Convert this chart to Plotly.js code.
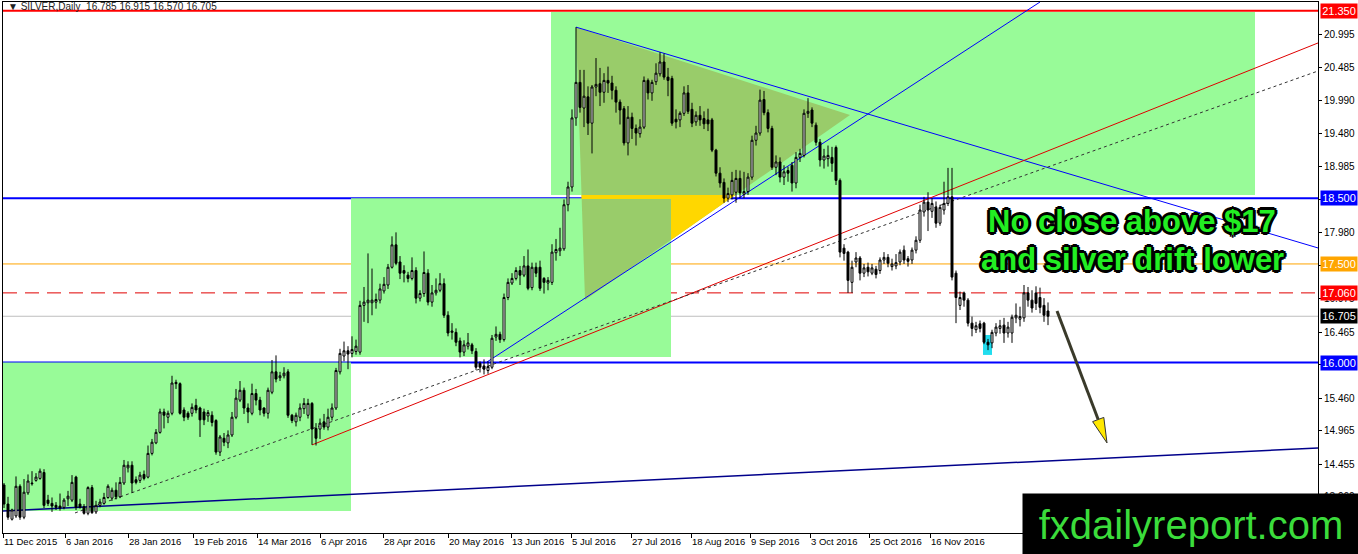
<!DOCTYPE html>
<html>
<head>
<meta charset="utf-8">
<script src="https://cdn.plot.ly/plotly-3.0.1.min.js"></script>
<style>
  html, body { margin: 0; padding: 0; background: #fff; }
  #chart { width: 1358px; height: 554px; }
</style>
</head>
<body>
<div id="chart"></div>
<script>
// SILVER daily, Dec 2015 - Dec 2016 (one entry per bar)
const opens = [
  14.14,13.85,13.62,13.67,14.12,13.65,14.02,14.17,14.21,14.24,14.33,13.91,13.86,13.83,13.82,13.80,13.93,13.91,14.26,13.85,
  13.81,13.71,14.10,13.73,13.83,13.86,13.95,13.94,14.06,13.96,14.17,14.40,14.44,14.22,14.21,14.30,14.26,14.62,14.78,14.94,
  15.25,15.17,15.23,15.70,15.68,15.28,15.23,15.23,15.35,15.31,15.25,15.19,15.20,15.12,14.64,14.85,14.78,14.90,15.17,15.43,
  15.58,15.31,15.23,15.53,15.43,15.31,15.23,15.55,15.86,15.77,15.80,15.86,15.20,15.10,15.17,15.30,15.20,15.38,15.00,14.99,
  15.10,15.02,15.17,15.31,15.86,16.10,16.18,16.14,16.17,16.16,16.87,16.91,16.91,16.92,16.95,17.09,17.18,17.45,17.79,17.53,
  17.40,17.33,17.28,17.40,16.98,17.05,17.36,16.92,17.06,17.10,17.20,16.72,16.46,16.46,16.33,16.16,16.25,16.27,16.17,15.99,
  15.95,15.88,15.93,16.39,16.43,16.35,16.99,17.21,17.28,17.40,17.33,17.47,17.14,17.45,17.45,17.28,17.21,17.22,17.67,17.70,
  17.73,18.40,18.67,19.72,20.26,19.87,20.04,19.64,20.19,20.24,20.11,20.29,20.25,20.14,19.96,19.86,19.34,19.73,19.56,19.48,
  19.58,20.29,20.10,20.27,20.39,20.57,20.34,20.32,19.70,19.69,19.79,20.10,19.85,19.66,19.76,19.71,19.69,19.69,19.23,18.88,
  18.74,18.50,18.55,18.59,18.80,18.56,18.60,18.82,19.38,19.49,20.00,19.80,19.56,18.97,19.05,18.82,18.92,19.00,18.73,19.12,
  19.15,19.79,19.84,19.61,19.35,19.08,19.10,19.12,19.27,18.77,17.74,17.68,17.22,17.53,17.59,17.36,17.45,17.36,17.42,17.40,
  17.56,17.60,17.46,17.47,17.53,17.71,17.58,17.56,17.71,17.86,18.29,18.44,18.30,18.36,18.12,18.32,18.42,18.52,17.36,16.87,
  17.06,16.95,16.60,16.50,16.59,16.60,16.31,16.30,16.45,16.52,16.57,16.45,16.45,16.68,16.66,16.68,17.06,16.95,17.06,16.99,
  16.87,16.785
];
const highs = [
  14.17,13.96,13.78,14.27,14.15,14.23,14.30,14.35,14.32,14.39,14.38,13.99,13.95,13.88,14.01,13.94,14.05,14.29,14.28,13.93,
  13.85,14.12,14.14,13.90,13.93,14.02,14.15,14.10,14.18,14.26,14.52,14.50,14.50,14.27,14.34,14.36,14.74,14.84,14.99,15.30,
  15.30,15.27,15.80,15.74,15.70,15.32,15.26,15.38,15.45,15.33,15.30,15.28,15.26,15.14,14.90,14.93,14.97,15.25,15.60,15.72,
  15.62,15.38,15.68,15.60,15.48,15.32,15.62,16.04,16.11,15.86,15.93,15.90,15.22,15.24,15.38,15.46,15.45,15.40,15.08,15.15,
  15.22,15.30,15.38,15.92,16.21,16.32,16.25,16.40,16.35,16.94,17.15,17.66,17.43,17.05,17.20,17.30,17.50,17.92,17.98,17.62,
  17.48,17.38,17.60,17.45,17.10,17.69,17.42,17.18,17.28,17.36,17.28,16.78,16.60,16.52,16.38,16.34,16.45,16.30,16.22,16.02,
  16.05,16.02,16.42,16.55,16.47,17.05,17.28,17.36,17.45,17.47,17.62,17.72,17.52,17.52,17.55,17.30,17.30,17.80,17.88,18.05,
  18.48,18.75,19.85,21.10,20.45,20.45,20.20,20.22,20.63,20.48,20.40,20.50,20.36,20.20,20.00,19.90,19.90,19.80,19.62,19.70,
  20.35,20.32,20.30,20.55,20.72,20.70,20.48,20.36,19.85,19.82,20.20,20.22,19.95,19.82,19.90,19.82,19.86,19.72,19.25,18.97,
  18.80,18.66,18.90,18.93,18.92,18.90,18.88,19.45,19.60,20.15,20.13,19.85,19.60,19.15,19.12,19.00,18.98,19.05,19.20,19.25,
  19.85,20.02,19.88,19.65,19.40,19.25,19.30,19.28,19.30,18.80,17.80,17.70,17.55,17.68,17.62,17.50,17.52,17.50,17.47,17.60,
  17.68,17.65,17.58,17.65,17.72,17.78,17.62,17.75,17.92,18.40,18.52,18.59,18.50,18.45,18.40,18.75,18.96,18.96,17.40,17.08,
  17.08,16.98,16.70,16.62,16.64,16.62,16.36,16.50,16.60,16.65,16.68,16.62,16.73,16.90,16.85,17.18,17.15,17.10,17.16,17.14,
  16.98,16.915
];
const lows = [
  13.79,13.61,13.60,13.64,13.61,13.62,13.99,14.13,14.19,14.22,13.79,13.82,13.73,13.76,13.75,13.77,13.82,13.88,13.76,13.78,
  13.69,13.68,13.70,13.70,13.80,13.84,13.93,13.90,13.92,13.94,14.14,14.33,14.02,14.15,14.17,14.21,14.24,14.59,14.76,14.92,
  15.00,15.08,15.20,15.60,15.21,15.11,15.13,15.18,15.23,14.87,15.05,15.10,15.03,14.60,14.58,14.73,14.70,14.87,15.14,15.40,
  15.22,15.08,15.20,15.35,15.20,15.18,15.15,15.52,15.70,15.72,15.76,15.16,15.08,15.03,15.11,15.22,15.15,14.75,14.74,14.84,
  14.98,14.97,15.12,15.28,15.82,16.02,15.90,16.08,16.12,16.12,16.62,16.60,16.72,16.82,16.90,17.05,17.12,17.43,17.48,17.27,
  17.22,17.22,17.25,16.90,16.93,17.00,16.87,16.85,17.02,17.07,16.68,16.40,16.35,16.25,16.08,16.10,16.20,16.13,15.89,15.85,
  15.82,15.83,15.90,16.33,16.30,16.32,16.95,17.18,17.25,17.18,17.30,17.10,17.10,17.30,17.09,17.05,17.10,17.18,17.55,17.62,
  17.70,18.30,18.60,19.60,19.80,19.58,19.46,19.18,20.05,19.90,19.95,20.10,20.00,19.80,19.62,19.30,19.15,19.40,19.30,19.42,
  19.55,20.00,19.98,20.22,20.35,20.30,20.05,19.60,19.56,19.58,19.75,19.78,19.58,19.60,19.60,19.55,19.52,19.20,18.83,18.66,
  18.43,18.44,18.48,18.43,18.50,18.50,18.55,18.78,19.30,19.45,19.76,19.50,18.93,18.85,18.74,18.70,18.75,18.60,18.65,19.05,
  19.12,19.72,19.58,19.30,18.98,18.95,18.98,18.90,18.70,17.60,17.55,17.06,17.06,17.45,17.25,17.30,17.31,17.33,17.28,17.35,
  17.50,17.45,17.40,17.42,17.48,17.50,17.46,17.50,17.66,17.82,18.22,18.00,18.20,18.05,18.08,18.25,18.38,17.25,16.60,16.80,
  16.85,16.55,16.40,16.45,16.46,16.28,16.19,16.22,16.40,16.44,16.30,16.38,16.30,16.60,16.55,16.62,16.85,16.76,16.80,16.75,
  16.62,16.570
];
const closes = [
  13.85,13.65,13.76,14.12,13.65,14.03,14.20,14.16,14.26,14.35,13.83,13.86,13.82,13.80,13.79,13.91,13.97,14.18,13.80,13.80,
  13.71,14.10,13.72,13.83,13.88,13.95,14.12,14.06,13.96,14.18,14.44,14.44,14.17,14.18,14.29,14.24,14.62,14.79,14.94,15.25,
  15.20,15.23,15.69,15.68,15.23,15.17,15.17,15.32,15.28,15.13,15.13,15.24,15.09,14.64,14.87,14.79,14.90,15.17,15.46,15.58,
  15.31,15.25,15.53,15.43,15.28,15.23,15.58,15.86,15.75,15.80,15.84,15.20,15.12,15.20,15.31,15.38,15.38,14.99,14.85,15.08,
  15.02,15.17,15.31,15.88,16.14,16.18,16.13,16.20,16.25,16.87,16.92,16.95,16.95,16.96,17.12,17.19,17.45,17.79,17.51,17.36,
  17.36,17.28,17.40,16.98,17.05,17.37,16.92,17.06,17.10,17.20,16.72,16.45,16.48,16.31,16.16,16.27,16.30,16.18,15.93,15.93,
  15.90,15.94,16.37,16.43,16.35,16.99,17.22,17.28,17.40,17.33,17.47,17.13,17.45,17.36,17.13,17.22,17.25,17.68,17.72,17.74,
  18.40,18.67,19.72,20.26,19.88,20.05,19.64,20.19,20.23,20.11,20.29,20.25,20.14,19.96,19.84,19.34,19.73,19.56,19.49,19.58,
  20.29,20.10,20.26,20.40,20.57,20.34,20.29,19.64,19.66,19.79,20.10,19.82,19.64,19.76,19.69,19.63,19.63,19.23,18.88,18.73,
  18.50,18.57,18.77,18.80,18.58,18.60,18.82,19.38,19.49,19.99,19.80,19.56,18.97,19.05,18.82,18.90,18.88,18.73,19.12,19.18,
  19.79,19.82,19.64,19.35,19.08,19.14,19.15,19.03,18.77,17.68,17.66,17.25,17.45,17.59,17.36,17.44,17.38,17.44,17.34,17.56,
  17.60,17.51,17.50,17.52,17.68,17.56,17.54,17.71,17.86,18.32,18.44,18.32,18.42,18.12,18.36,18.42,18.52,17.30,16.99,16.99,
  16.95,16.60,16.52,16.56,16.52,16.31,16.27,16.46,16.54,16.56,16.45,16.54,16.69,16.72,16.70,17.06,16.95,16.83,16.90,16.84,
  16.72,16.705
];

// bottom time axis: bar position of each MT4 date label
const dateTicks = [-0.25, 15.25, 31, 47.25, 63.25, 79, 94.75, 111, 126.75, 141.75, 156.75, 171.75, 186.5, 201.5, 216.25, 231.5];
const dateLabels = ['11 Dec 2015','6 Jan 2016','28 Jan 2016','19 Feb 2016','14 Mar 2016','6 Apr 2016','28 Apr 2016',
  '20 May 2016','13 Jun 2016','5 Jul 2016','27 Jul 2016','18 Aug 2016','9 Sep 2016','3 Oct 2016','25 Oct 2016',
  '16 Nov 2016'];
// right price scale
const priceTicks = [20.995, 20.485, 19.990, 19.480, 18.985, 18.475, 17.980, 17.470, 16.975, 16.465, 15.970, 15.460, 14.965, 14.455, 13.960];

// horizontal levels drawn on the chart, with their price tag colour
const levelPrices = [21.350, 18.500, 17.500, 17.060, 16.705, 16.000];
const levelColors = ['#FF0000', '#0000FF', '#FFA500', '#FF0000', '#000000', '#0000FF'];

// trend lines: [bar, price] anchors
const upperBlue  = [[143, 21.10], [328.5, 17.743]];
const risingBlue = [[120.75, 16.01], [259, 21.482]];
const redTrend   = [[77, 14.749], [328.5, 20.859]];
const dotTrend   = [[17.75, 13.715], [328.5, 20.433]];
const navyTrend  = [[-0.25, 13.745], [328.5, 14.703]];

// green zones: [bar0, bar1, priceLow, priceHigh]
const zones = [
  [-0.25, 86.75, 13.745, 16.00],
  [86.75, 166.75, 16.086, 18.50],
  [136.75, 312.75, 18.55, 21.33]
];
const triangle = [[143, 21.10], [211.5, 19.765], [145.25, 16.953]];
const triangleGap = [[144.375, 18.549], [182.85, 18.549], [166.75, 17.865], [166.75, 18.488], [144.4, 18.488]];
const lowMark = [244.75, 247, 16.117, 16.42];
const arrowShaft = [[263.25, 16.785], [273.55, 15.135]];
const arrowHead = [[275.75, 14.779], [274.95, 15.167], [272.15, 15.103]];

function pathOf(pts) {
  return 'M' + pts.map(p => p[0] + ',' + p[1]).join(' L') + ' Z';
}
function seg(p, color, width, dash) {
  return {type: 'line', xref: 'x', yref: 'y', x0: p[0][0], y0: p[0][1], x1: p[1][0], y1: p[1][1],
    line: {color: color, width: width, dash: dash || 'solid'}, layer: 'below'};
}

const shapes = [];
zones.forEach(z => shapes.push({type: 'rect', xref: 'x', yref: 'y', x0: z[0], x1: z[1], y0: z[2], y1: z[3],
  fillcolor: '#98FB98', line: {width: 0}, layer: 'below'}));
shapes.push({type: 'path', path: pathOf(triangle), fillcolor: '#99CC6A', line: {width: 0}, layer: 'below'});
shapes.push({type: 'path', path: pathOf(triangleGap), fillcolor: '#FFD700', line: {width: 0}, layer: 'below'});
shapes.push({type: 'rect', xref: 'x', yref: 'y', x0: lowMark[0], x1: lowMark[1], y0: lowMark[2], y1: lowMark[3],
  fillcolor: '#22DDEE', line: {width: 0}, layer: 'below'});

// level lines
const levelStyle = [[2, 'solid'], [2, 'solid'], [1, 'solid'], [1, '14px,8px'], [1, 'solid'], [2, 'solid']];
levelPrices.forEach((p, i) => shapes.push({type: 'line', xref: 'paper', yref: 'y', x0: 0, x1: 1, y0: p, y1: p,
  line: {color: i === 4 ? '#BEBEBE' : (i === 3 ? '#E00000' : levelColors[i]), width: levelStyle[i][0], dash: levelStyle[i][1]},
  layer: 'below'}));

shapes.push(seg(upperBlue, '#0000FF', 1));
shapes.push(seg(risingBlue, '#0000FF', 1));
shapes.push(seg(redTrend, '#E00000', 1));
shapes.push(seg(dotTrend, '#333333', 1, '3px,3px'));
shapes.push(seg(navyTrend, '#00008B', 1.5));

// arrow
const shaft = seg(arrowShaft, '#3A3A2A', 3);
shaft.layer = 'above';
shapes.push(shaft);
shapes.push({type: 'path', path: pathOf(arrowHead), fillcolor: '#FFE800', line: {color: '#333', width: 1}, layer: 'above'});

const annotations = [];
levelPrices.forEach((p, i) => annotations.push({
  xref: 'paper', yref: 'y', x: 1, y: p, xanchor: 'left', yanchor: 'middle', xshift: 2,
  text: p.toFixed(3), showarrow: false, bgcolor: levelColors[i], borderpad: 1, width: 34,
  font: {family: 'Liberation Sans, Arial, sans-serif', size: 11, color: '#FFFFFF'}
}));

annotations.push({
  xref: 'paper', yref: 'paper', x: 0.002, y: 1, xanchor: 'left', yanchor: 'top', yshift: 3, showarrow: false,
  text: '\u25BC SILVER,Daily  16.785 16.915 16.570 16.705',
  font: {family: 'Liberation Sans, Arial, sans-serif', size: 10, color: '#222'}
});

const outline = '-2px -2px 0 #000, 2px -2px 0 #000, -2px 2px 0 #000, 2px 2px 0 #000, 0 3px 0 #000, 0 -3px 0 #000, 3px 0 0 #000, -3px 0 0 #000';
const bigFont = {family: 'Liberation Sans, Arial, sans-serif', size: 31,
  color: '#22EE22', weight: 'bold', shadow: outline};
annotations.push({xref: 'x', yref: 'y', x: 282, y: 18.15, showarrow: false, text: 'No close above $17', font: bigFont});
annotations.push({xref: 'x', yref: 'y', x: 282, y: 17.57, showarrow: false, text: 'and silver drift lower', font: bigFont});

annotations.push({
  xref: 'paper', yref: 'paper', x: 0.7749, y: 0.0753, xanchor: 'left', yanchor: 'top', showarrow: false,
  text: 'fxdailyreport.com', bgcolor: '#000000', width: 336, height: 62, borderpad: 0, align: 'center', valign: 'middle',
  font: {family: 'Liberation Sans, Arial, sans-serif', size: 40, color: '#3BDC3B'}
});

const trace = {
  type: 'candlestick',
  x: opens.map((_, i) => i),
  open: opens, high: highs, low: lows, close: closes,
  increasing: {line: {color: '#000000', width: 1}, fillcolor: '#FFFFFF'},
  decreasing: {line: {color: '#000000', width: 1}, fillcolor: '#000000'},
  whiskerwidth: 0,
  hoverinfo: 'skip',
  showlegend: false
};

const layout = {
  width: 1358, height: 554,
  margin: {l: 3, r: 40, t: 2, b: 21},
  paper_bgcolor: '#FFFFFF', plot_bgcolor: '#FFFFFF',
  showlegend: false,
  xaxis: {
    type: 'linear', range: [-0.25, 328.5], rangeslider: {visible: false}, automargin: false,
    showgrid: false, zeroline: false, showline: true, linecolor: '#000', linewidth: 1, mirror: true,
    tickmode: 'array', tickvals: dateTicks, ticktext: dateLabels, tickangle: 0,
    ticks: 'outside', ticklen: 4, tickcolor: '#000', ticklabelposition: 'outside right',
    tickfont: {family: 'Liberation Sans, Arial, sans-serif', size: 9.5, color: '#000'}
  },
  yaxis: {
    side: 'right', range: [13.41, 21.482], automargin: false,
    showgrid: false, zeroline: false, showline: true, linecolor: '#000', linewidth: 1, mirror: true,
    tickmode: 'array', tickvals: priceTicks, tickformat: '.3f',
    ticks: 'outside', ticklen: 3, tickcolor: '#000',
    tickfont: {family: 'Liberation Sans, Arial, sans-serif', size: 10, color: '#000'}
  },
  shapes: shapes,
  annotations: annotations
};

Plotly.newPlot('chart', [trace], layout, {staticPlot: true, displayModeBar: false});
</script>
</body>
</html>
